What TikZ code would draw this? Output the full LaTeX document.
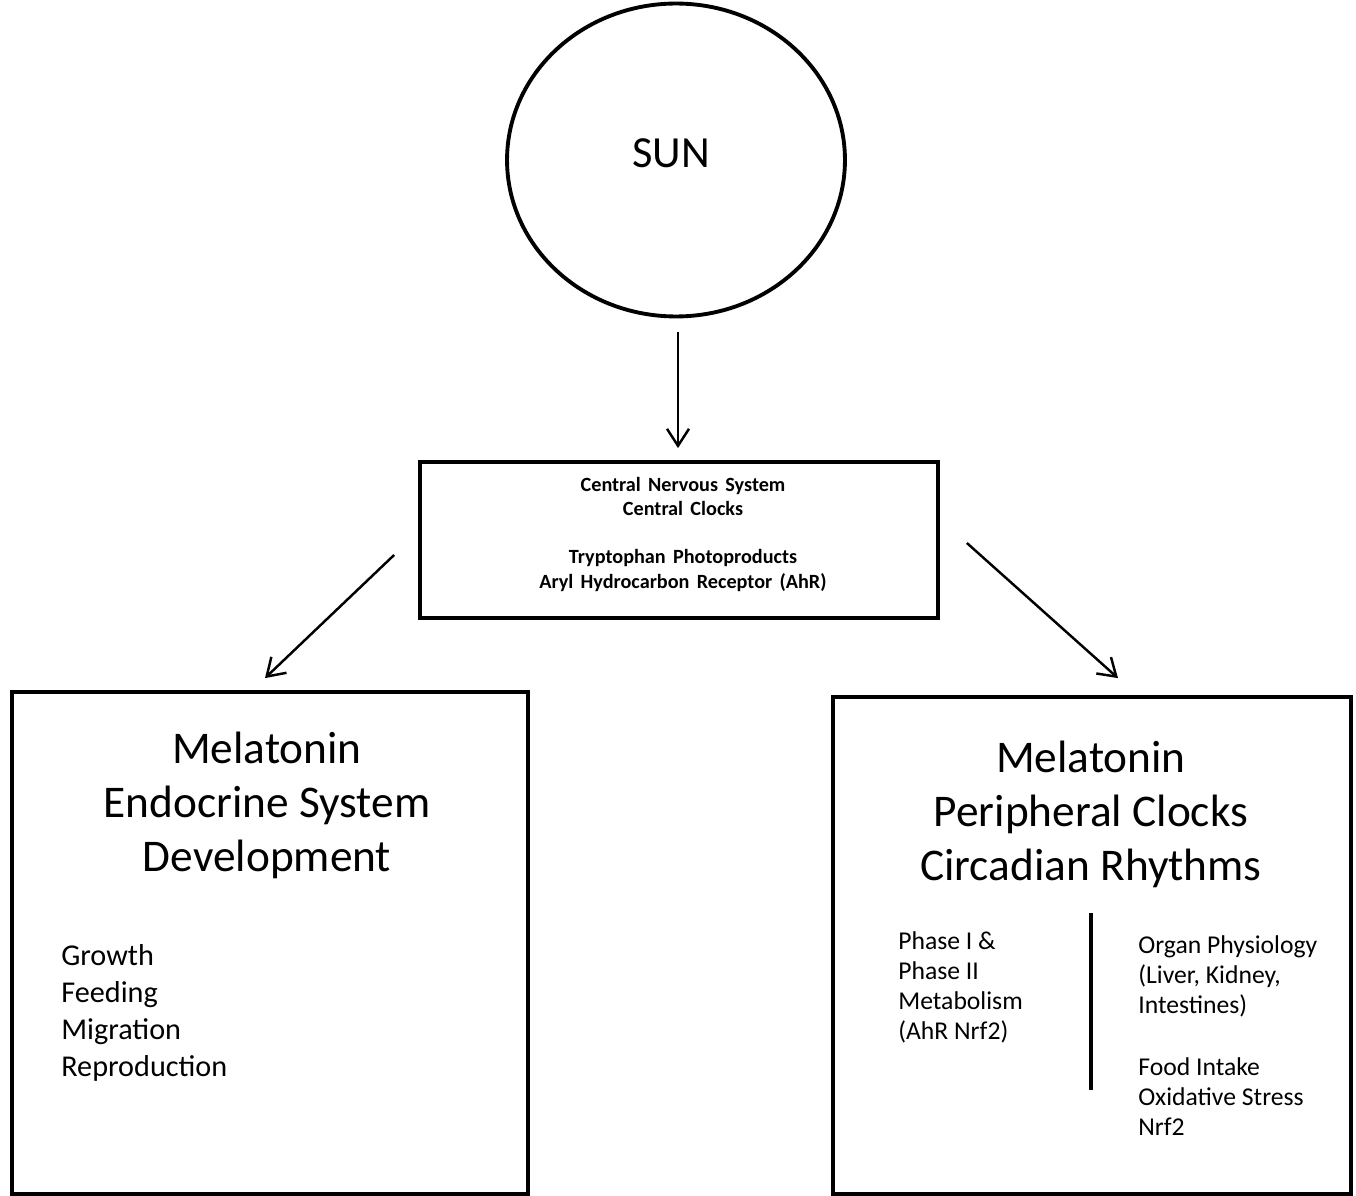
\documentclass[tikz,border=0pt]{standalone}
\usepackage{fontspec}
\setmainfont{Carlito}
\newfontfamily\cnsfont{Carlito}[WordSpace=1.6]
\usetikzlibrary{arrows.meta,shapes.geometric,calc}

\begin{document}
\begin{tikzpicture}[x=0.02cm, y=-0.02cm,
    frame/.style={draw, line width=2.2pt, inner sep=0pt},
    flow/.style={line width=1.4pt, -{Straight Barb[length=3.4mm, width=4.4mm, line width=1.4pt]}},
    title/.style={font=\fontsize{25.8}{30}\selectfont, anchor=base, inner sep=0pt},
    small/.style={font=\cnsfont\fontsize{11.5}{13}\selectfont\bfseries, anchor=base, inner sep=0pt},
    item/.style={font=\fontsize{17.2}{20}\selectfont, anchor=base west, inner sep=0pt},
    note/.style={font=\fontsize{14.6}{17}\selectfont, anchor=base west, inner sep=0pt}]
    \useasboundingbox (0,0) rectangle (1356,1196);
    \pgfmathsetmacro{\ta}{54}
    \pgfmathsetmacro{\tb}{30}

    % sun and central box
    \node[frame, ellipse, minimum width=6.76cm, minimum height=6.26cm] (sun) at (676,160) {};
    \node[title, font=\fontsize{25.3}{30}\selectfont] (sunlbl) at (671,168) {SUN};
    \node[frame, minimum width=10.36cm, minimum height=3.12cm] (cns) at (679,540) {};
    \foreach \t/\y [count=\i] in {Central Nervous System/491,Central Clocks/515,Tryptophan Photoproducts/563,Aryl Hydrocarbon Receptor (AhR)/588}
        \node[small] (cns\i) at (683,\y) {\t};

    % the two outcome boxes
    \node[frame, minimum width=10.32cm, minimum height=10.04cm] (endo) at (270,943) {};
    \node[frame, minimum width=10.36cm, minimum height=9.94cm] (peri) at (1092,945.5) {};
    \foreach \t [count=\i] in {Melatonin,Endocrine System,Development}
        \node[title] (endo\i) at (267,{763+(\i-1)*\ta}) {\t};
    \foreach \t [count=\i] in {Melatonin,Peripheral Clocks,Circadian Rhythms}
        \node[title] (peri\i) at (1091,{772+(\i-1)*\ta}) {\t};

    \foreach \t [count=\i] in {Growth,Feeding,Migration,Reproduction}
        \node[item] (grow\i) at (61,{965+(\i-1)*37}) {\t};
    \foreach \t [count=\i] in {Phase I \&,Phase II,Metabolism,(AhR Nrf2)}
        \node[note] (phase\i) at (898,{949+(\i-1)*\tb}) {\t};
    \foreach \t/\y [count=\i] in {Organ Physiology/953,{(Liver, Kidney,}/983,Intestines)/1013,Food Intake/1075,Oxidative Stress/1105,Nrf2/1135}
        \node[note] (organ\i) at (1138,\y) {\t};
    \draw[line width=1.8pt] (1091,913) -- (1091,1090);

    % arrows
    \draw[flow] ($(sun.south)+(2,14)$) -- ($(sun.south |- cns.north)+(2,-12)$);
    \draw[flow] ($(cns.west)+(-24,15)$) -- ($(endo.north)+(-5,-12)$);
    \draw[flow] ($(cns.east)+(27,3)$) -- ($(peri.north)+(26,-17)$);
\end{tikzpicture}
\end{document}
